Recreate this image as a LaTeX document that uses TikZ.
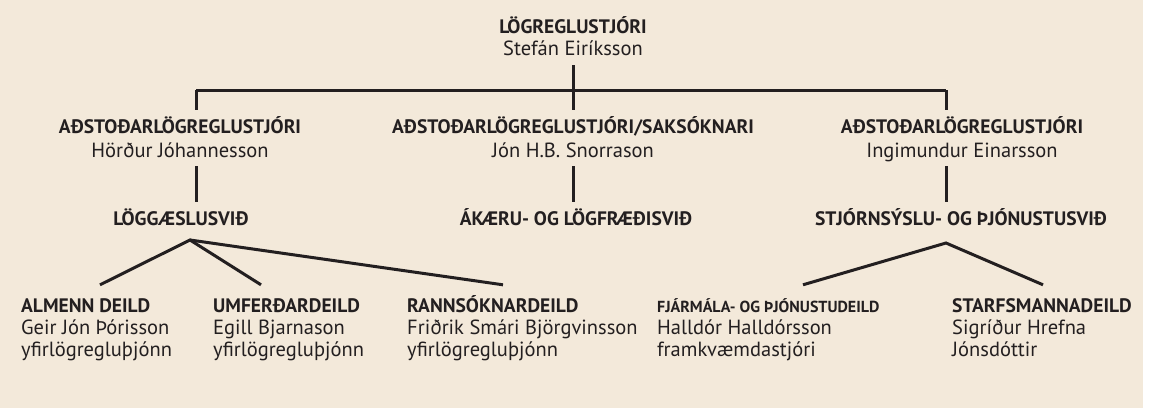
\documentclass[tikz,border=0pt]{standalone}
\usepackage{fontspec}
\setmainfont{PT Sans}
\usepackage{tikz}
\usetikzlibrary{positioning}
\usepackage{xcolor}
\definecolor{chartbeige}{RGB}{243,233,218}
\definecolor{chartink}{RGB}{35,31,32}
\newcommand{\rank}[1]{{\fontsize{19.5}{22}\selectfont\bfseries #1}}
\newcommand{\smallrank}[1]{{\fontsize{16}{22}\selectfont\bfseries #1}}
\tikzset{
  orgline/.style={draw=chartink, line width=3pt},
  headbox/.style={align=center, anchor=base, inner sep=0pt, text=chartink,
    font=\fontsize{20.5}{24}\selectfont, text height=47pt, text depth=9pt},
  sectbox/.style={anchor=base, inner sep=0pt, text=chartink,
    font=\fontsize{19.5}{22}\selectfont\bfseries, text height=23pt, text depth=15pt},
  unitbox/.style={align=left, anchor=base west, inner sep=0pt, text=chartink,
    font=\fontsize{20.5}{22}\selectfont, text height=71pt, text depth=10pt}
}

\begin{document}
\begin{tikzpicture}[x=1pt,y=-1pt]
        \useasboundingbox (0,0) rectangle (1161,408);
        \fill[chartbeige] (0,0) rectangle (1143,408);

        % Chief of police
        \node[headbox, font=\fontsize{20.5}{22}\selectfont, text depth=10pt] (chief) at (573,55)
            {\rank{LÖGREGLUSTJÓRI}\\Stefán Eiríksson};

        % Deputies
        \node[headbox] (dep1) at (180,157) {\rank{AÐSTOÐARLÖGREGLUSTJÓRI}\\Hörður Jóhannesson};
        \node[headbox] (dep2) at (573,157) {\rank{AÐSTOÐARLÖGREGLUSTJÓRI/SAKSÓKNARI}\\Jón H.B. Snorrason};
        \node[headbox] (dep3) at (962,157) {\rank{AÐSTOÐARLÖGREGLUSTJÓRI}\\Ingimundur Einarsson};

        % Divisions
        \node[sectbox] (div1) at (181,225) {LÖGGÆSLUSVIÐ};
        \node[sectbox] (div2) at (576,225) {ÁKÆRU- OG LÖGFRÆÐISVIÐ};
        \node[sectbox] (div3) at (961,225) {STJÓRNSÝSLU- OG ÞJÓNUSTUSVIÐ};

        % Departments
        \node[unitbox] (unit1) at (21,356) {\rank{ALMENN DEILD}\\Geir Jón Þórisson\\yfirlögregluþjónn};
        \node[unitbox] (unit2) at (213,356) {\rank{UMFERÐARDEILD}\\Egill Bjarnason\\yfirlögregluþjónn};
        \node[unitbox] (unit3) at (407,356) {\rank{RANNSÓKNARDEILD}\\Friðrik Smári Björgvinsson\\yfirlögregluþjónn};
        \node[unitbox] (unit4) at (657,356) {\smallrank{FJÁRMÁLA- OG ÞJÓNUSTUDEILD}\\Halldór Halldórsson\\framkvæmdastjóri};
        \node[unitbox] (unit5) at (952,356) {\rank{STARFSMANNADEILD}\\Sigríður Hrefna\\Jónsdóttir};

        % Connectors
        \coordinate (forkL) at (196,90);
        \coordinate (forkR) at (946,90);
        \draw[orgline] (forkL) -- (forkR);
        \draw[orgline] (chief.south) -- (chief.south |- dep2.north);
        \draw[orgline] (forkL) -- (forkL |- dep1.north);
        \draw[orgline] (forkR) -- (forkR |- dep3.north);
        \draw[orgline] (forkL |- dep1.south) -- (forkL |- div1.north);
        \draw[orgline] (chief.south |- dep2.south) -- (chief.south |- div2.north);
        \draw[orgline] (forkR |- dep3.south) -- (forkR |- div3.north);
        \coordinate (apexL) at (190,240);
        \coordinate (apexR) at (946,243);
        \draw[orgline] ([xshift=79pt]unit1.north west) -- (apexL) -- ([xshift=48pt]unit2.north west);
        \draw[orgline] (apexL) -- ([xshift=96pt]unit3.north west);
        \draw[orgline] ([xshift=146pt]unit4.north west) -- (apexR) -- ([xshift=91pt]unit5.north west);
\end{tikzpicture}
\end{document}
